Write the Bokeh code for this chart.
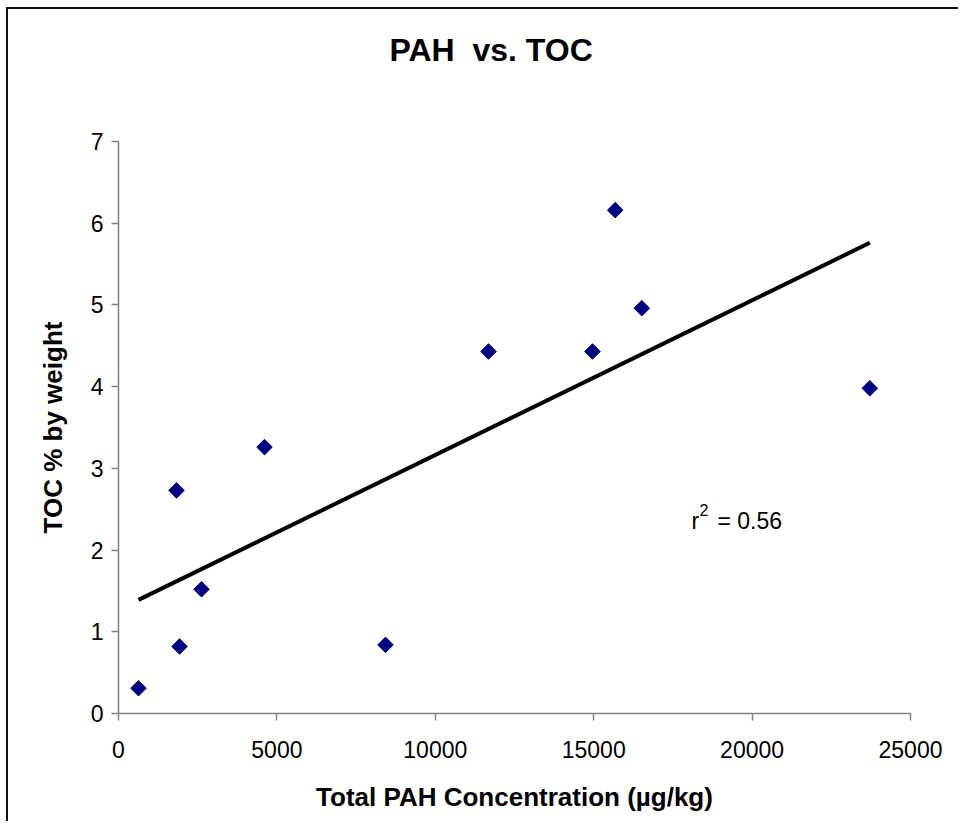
from bokeh.plotting import figure
from bokeh.models import Range1d, FixedTicker, Title
from bokeh.core.properties import value
from bokeh.embed import file_html
from bokeh.resources import INLINE
import math

# ---- data ----
pah = [631, 1831, 1926, 2620, 4609, 8428, 11680, 14962, 15679, 16518, 23715]
toc = [0.31, 2.73, 0.82, 1.52, 3.26, 0.84, 4.43, 4.43, 6.16, 4.96, 3.98]
trend_x = [631, 23715]
trend_y = [1.39, 5.76]
x_ticks = [0, 5000, 10000, 15000, 20000, 25000]
y_ticks = [0, 1, 2, 3, 4, 5, 6, 7]
title_text = "PAH\u00a0 vs. TOC"
r2_text = "0.56"
r2_pos = (18087, 2.35)

FONT = "Liberation Sans"

p = figure(width=952, height=814, output_backend="svg", toolbar_location=None,
           x_range=Range1d(0, 25000), y_range=Range1d(0, 7),
           min_border_left=110, min_border_right=50,
           min_border_top=132, min_border_bottom=110,
           background_fill_color="white", border_fill_color="white",
           margin=(7, 0, 0, 6))
p.styles = {"border-left": "2px solid #111", "border-top": "2px solid #111",
            "border-right": "0px", "border-bottom": "0px"}
p.outline_line_color = None
p.grid.visible = False

# spacer (closest to the frame) then the real title above it
p.add_layout(Title(text=" ", text_font_size="2px", standoff=70), "above")
p.add_layout(Title(text=title_text, align="left",
                   text_font=FONT, text_font_size="32px", text_font_style="bold",
                   text_color="black", offset=271, standoff=0), "above")

for ax in (p.xaxis[0], p.yaxis[0]):
    ax.axis_line_color = "#808080"
    ax.axis_line_width = 1.5
    ax.major_tick_line_color = "#808080"
    ax.major_tick_line_width = 1.5
    ax.major_tick_out = 7
    ax.major_tick_in = 0
    ax.minor_tick_line_color = None
    ax.major_label_text_font = FONT
    ax.major_label_text_font_size = "23px"
    ax.major_label_text_color = "black"
    ax.axis_label_text_font = FONT
    ax.axis_label_text_font_size = "26px"
    ax.axis_label_text_font_style = "bold"
    ax.axis_label_text_color = "black"

p.xaxis.ticker = FixedTicker(ticks=x_ticks)
p.yaxis.ticker = FixedTicker(ticks=y_ticks)
p.xaxis.major_label_standoff = 20
p.yaxis.major_label_standoff = 8
p.xaxis.axis_label = "Total PAH Concentration (µg/kg)"
p.yaxis.axis_label = "TOC % by weight"
p.xaxis.axis_label_standoff = 21
p.yaxis.axis_label_standoff = 20

p.line(trend_x, trend_y, line_color="black", line_width=4)
p.scatter(pah, toc, marker="square", angle=math.pi / 4, size=11,
          fill_color="#000080", line_color="#000080")

p.text(x=[r2_pos[0]], y=[r2_pos[1]], text=["r"], text_font=value(FONT),
       text_font_size="23px", text_color="black", text_baseline="alphabetic",
       text_align="left")
p.text(x=[r2_pos[0]], y=[r2_pos[1]], text=["2"], text_font=value(FONT),
       text_font_size="16px", text_color="black", text_baseline="alphabetic",
       text_align="left", x_offset=8, y_offset=-11)
p.text(x=[r2_pos[0]], y=[r2_pos[1]], text=["= " + r2_text], text_font=value(FONT),
       text_font_size="23px", text_color="black", text_baseline="alphabetic",
       text_align="left", x_offset=26)

open("out.html", "w").write(file_html(p, INLINE))
